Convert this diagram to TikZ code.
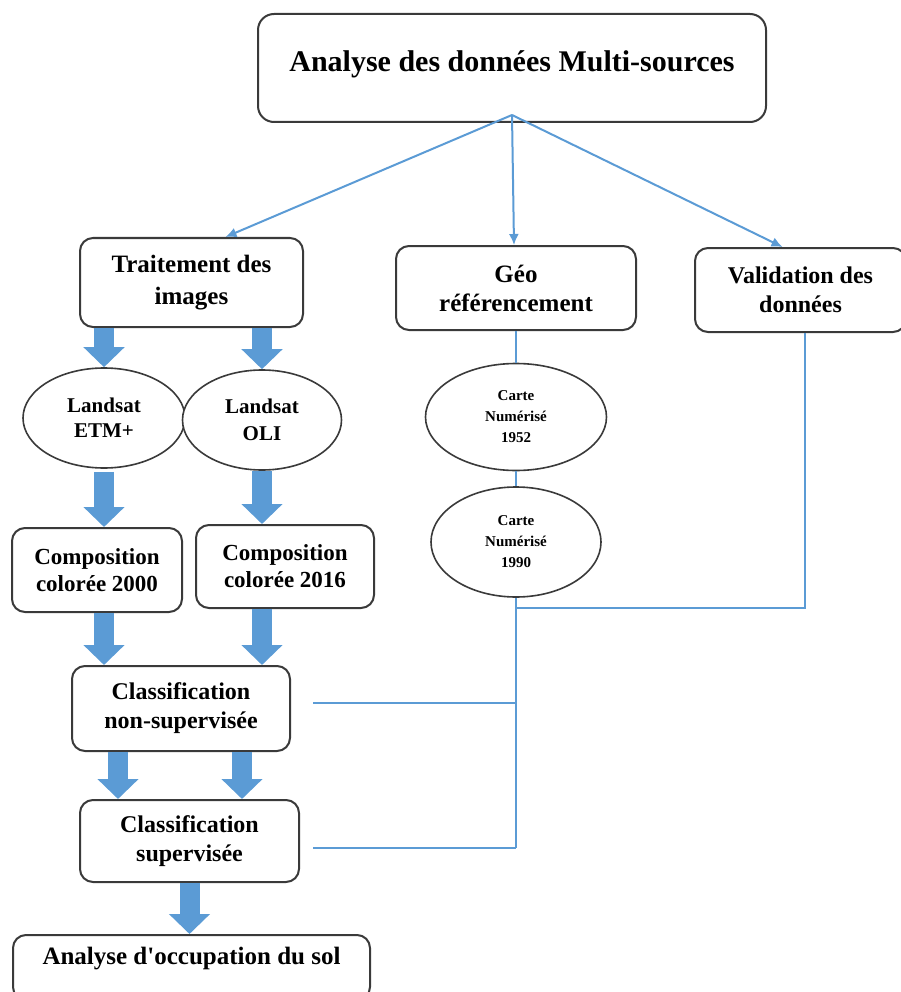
\documentclass[tikz,border=0pt]{standalone}
\usepackage{fontspec}
\setmainfont{Liberation Serif}
\usetikzlibrary{arrows.meta,shapes.geometric}
\definecolor{flowblue}{HTML}{5B9BD5}
\definecolor{boxline}{HTML}{3A3A3A}

\begin{document}
\begin{tikzpicture}[x=1pt,y=-1pt,
    box/.style={draw=boxline,line width=2pt,rounded corners=13pt,fill=white,
      inner sep=0pt,align=center},
    oval/.style={draw=boxline,line width=1.6pt,ellipse,fill=white,
      inner sep=0pt,align=center},
    fsize/.style 2 args={font=\bfseries\fontsize{#1}{#2}\selectfont},
    bigarrow/.style={draw=flowblue,line width=20pt,
      -{Triangle[length=20pt,width=40pt]}},
    link/.style={draw=flowblue,line width=2pt},
    thinarrow/.style={link,-{Latex[length=11pt,width=10pt]}}]
        \useasboundingbox (0,0) rectangle (901,992);

        \node[box,rounded corners=16pt,fsize={30}{34},minimum width=508pt,minimum height=108pt] (title) at (512,68)
        {\raisebox{14pt}{Analyse des données Multi-sources}};

        \node[box,fsize={25}{32},minimum width=223pt,minimum height=89pt] (trait) at (191.5,282.5)
        {Traitement des\\images};
        \node[box,fsize={25}{29},minimum width=240pt,minimum height=84pt] (geo) at (516,288)
        {Géo\\référencement};
        \node[box,fsize={24}{29},minimum width=211pt,minimum height=84pt] (valid) at (800.5,290)
        {Validation des\\données};

        \node[oval,fsize={21}{25},minimum width=162pt,minimum height=100pt] (etm) at (104,418)
        {Landsat\\ETM+};
        \node[oval,fsize={21}{27},minimum width=159pt,minimum height=100pt] (oli) at (262,420)
        {Landsat\\OLI};
        \node[oval,fsize={15}{21},minimum width=181pt,minimum height=107pt] (carte1) at (516,417)
        {Carte\\Numérisé\\1952};
        \node[oval,fsize={15}{21},minimum width=170pt,minimum height=110pt] (carte2) at (516,542)
        {Carte\\Numérisé\\1990};

        \node[box,fsize={23}{27},minimum width=170pt,minimum height=84pt] (comp1) at (97,570)
        {Composition\\colorée 2000};
        \node[box,fsize={23}{27},minimum width=178pt,minimum height=83pt] (comp2) at (285,566.5)
        {Composition\\colorée 2016};

        \node[box,fsize={24}{29},minimum width=218pt,minimum height=85pt] (nonsup) at (181,708.5)
        {Classification\\non-supervisée};
        \node[box,fsize={24}{29},minimum width=219pt,minimum height=82pt] (sup) at (189.5,841)
        {Classification\\supervisée};
        \node[box,fsize={25}{29},minimum width=357pt,minimum height=65pt] (final) at (191.5,967.5)
        {\raisebox{24pt}{Analyse d\textquotesingle occupation du sol}};

        \draw[thinarrow] ([yshift=8pt]title.south) -- ([xshift=34pt]trait.north);
        \draw[thinarrow] ([yshift=8pt]title.south) -- ([xshift=-2pt]geo.north);
        \draw[thinarrow] ([yshift=8pt]title.south) -- ([xshift=-18pt]valid.north);

        \draw[bigarrow] (etm.north |- trait.south) -- (etm.north);
        \draw[bigarrow] (oli.north |- trait.south) -- (oli.north);
        \draw[bigarrow] ([yshift=-3pt]etm.south) -- (etm.south |- comp1.north);
        \draw[bigarrow] (oli.south) -- (oli.south |- comp2.north);
        \draw[bigarrow] (etm.south |- comp1.south) -- (etm.south |- nonsup.north);
        \draw[bigarrow] (oli.south |- comp2.south) -- (oli.south |- nonsup.north);
        \draw[bigarrow] ([xshift=-63pt]nonsup.south) -- ([xshift=-63pt]nonsup.south |- sup.north);
        \draw[bigarrow] ([xshift=61pt]nonsup.south) -- ([xshift=61pt]nonsup.south |- sup.north);
        \draw[bigarrow] (sup.south) -- (sup.south |- final.north);

        \coordinate (jtop) at (516,608);
        \coordinate (jmid) at (516,703);
        \coordinate (jbot) at (516,848);
        \draw[link] (geo.south) -- (carte1.north);
        \draw[link] (carte1.south) -- (carte2.north);
        \draw[link] (carte2.south) -- (jtop) -- (jbot);
        \draw[link] ([xshift=4.5pt]valid.south) -- ([xshift=4.5pt]valid.south |- jtop) -- (jtop);
        \draw[link] ([xshift=22pt]nonsup.east |- jmid) -- (jmid);
        \draw[link] ([xshift=13pt]sup.east |- jbot) -- (jbot);
      \end{tikzpicture}
\end{document}
